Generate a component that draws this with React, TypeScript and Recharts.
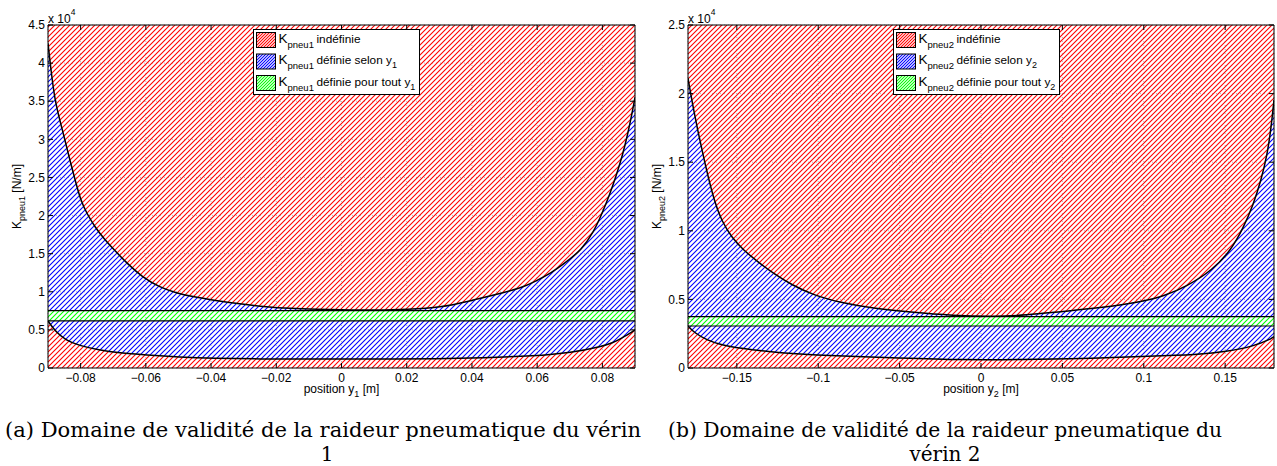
import React from "react";
import {
  ComposedChart,
  Area,
  Line,
  XAxis,
  YAxis,
  CartesianGrid,
  ReferenceLine,
  Legend,
  Label
} from "recharts";

const SANS = "'Liberation Sans', Arial, Helvetica, sans-serif";
const SERIF = "'DejaVu Serif', serif";

// (a) vérin 1 : upper limit of K_pneu1 [N/m] against position y1 [m]
const posSup1 = [-0.09, -0.0891, -0.0879, -0.0864, -0.0848, -0.0833, -0.0817, -0.08, -0.0781, -0.0756, -0.0728, -0.0697, -0.0654, -0.0611, -0.0559, -0.0507, -0.0452, -0.0395, -0.0312, -0.0228, -0.0158, -0.0087, 0.006, 0.0212, 0.0304, 0.0386, 0.0489, 0.0551, 0.0592, 0.0643, 0.0684, 0.0736, 0.0773, 0.0797, 0.0822, 0.0843, 0.0862, 0.0877, 0.089, 0.09];
const kSup1 = [42600, 39100, 35160, 32540, 29910, 27290, 24670, 22040, 20270, 18500, 16920, 15480, 13580, 11940, 10630, 9840, 9320, 8920, 8400, 8000, 7810, 7700, 7540, 7700, 7950, 8700, 9800, 10500, 11320, 12460, 13740, 15480, 17840, 20070, 22700, 25320, 27950, 30570, 33190, 35500];
// lower limit of K_pneu1
const posInf1 = [-0.09, -0.0877, -0.0846, -0.0805, -0.0744, -0.0682, -0.06, -0.0497, -0.0394, -0.025, -0.0087, 0.0078, 0.0304, 0.0427, 0.0592, 0.0705, 0.0797, 0.0834, 0.0859, 0.09];
const kInf1 = [6170, 4760, 3670, 2950, 2360, 1970, 1710, 1440, 1270, 1180, 1160, 1170, 1210, 1330, 1570, 2030, 2800, 3350, 3900, 4990];
const band1 = [6170, 7520];
const xTicks1 = [-0.08, -0.06, -0.04, -0.02, 0, 0.02, 0.04, 0.06, 0.08];
const yTicks1 = [0, 5000, 10000, 15000, 20000, 25000, 30000, 35000, 40000, 45000];

// (b) vérin 2 : upper limit of K_pneu2 [N/m] against position y2 [m]
const posSup2 = [-0.18, -0.1766, -0.1715, -0.1643, -0.159, -0.1529, -0.146, -0.137, -0.1276, -0.1161, -0.103, -0.0866, -0.0662, -0.0437, -0.0172, 0.0084, 0.028, 0.0483, 0.0728, 0.0993, 0.1134, 0.126, 0.1423, 0.1536, 0.1611, 0.1672, 0.1721, 0.1758, 0.1782, 0.18];
const kSup2 = [21120, 18810, 15890, 12250, 10640, 9480, 8600, 7730, 6900, 6050, 5320, 4770, 4350, 4080, 3820, 3745, 3850, 4100, 4370, 4830, 5290, 5930, 7140, 8600, 10200, 11880, 13700, 15530, 17490, 19530];
// lower limit of K_pneu2
const posInf2 = [-0.18, -0.1759, -0.1684, -0.1603, -0.148, -0.1296, -0.1071, -0.0457, -0.013, 0.0237, 0.0687, 0.1096, 0.1341, 0.1505, 0.1668, 0.1791, 0.18];
const kInf2 = [3060, 2550, 2040, 1710, 1440, 1170, 950, 710, 590, 600, 710, 875, 985, 1190, 1550, 2165, 2300];
const band2 = [3060, 3740];
const xTicks2 = [-0.15, -0.1, -0.05, 0, 0.05, 0.1, 0.15];
const yTicks2 = [0, 5000, 10000, 15000, 20000, 25000];

const legendLabels = ["indéfinie", "définie selon y", "définie pour tout y"];
const captions = [
  ["(a) Domaine de validité de la raideur pneumatique du vérin", "1"],
  ["(b) Domaine de validité de la raideur pneumatique du", "vérin 2"]
];

const RED = "#ff0000";
const BLUE = "#0000ff";
const GREEN = "#00ff00";

const fmtX = (v: number) => (v < 0 ? "\u2212" + Math.abs(v) : String(v));
const fmtY = (v: number) => String(v / 10000);
const blank = () => "";

function Hatch({ id, color, size, width = 1.1 }: { id: string; color: string; size: number; width?: number }) {
  const s = size;
  return (
    <pattern id={id} patternUnits="userSpaceOnUse" width={s} height={s}>
      <path
        d={`M-1,1 L1,-1 M0,${s} L${s},0 M${s - 1},${s + 1} L${s + 1},${s - 1}`}
        stroke={color}
        strokeWidth={width}
      />
    </pattern>
  );
}

function YTitle(props: any) {
  const { x, y, width, height } = props.viewBox;
  return (
    <text
      transform={`translate(${x + width - 27},${y + height / 2}) rotate(-90)`}
      textAnchor="middle"
      fontSize={12}
      fontFamily={SANS}
      fill="#000"
    >
      K<tspan fontSize={9} dy={4}>{props.sub}</tspan>
      <tspan dy={-4}> [N/m]</tspan>
    </text>
  );
}

function XTitle(props: any) {
  const { x, y, width } = props.viewBox;
  return (
    <text x={x + width / 2} y={y + 25} textAnchor="middle" fontSize={12} fontFamily={SANS} fill="#000">
      position y<tspan fontSize={9} dy={4}>{props.n}</tspan>
      <tspan dy={-4}> [m]</tspan>
    </text>
  );
}

function Exponent(props: any) {
  const { x, y } = props.viewBox;
  return (
    <text x={x} y={y - 1} fontSize={12} fontFamily={SANS} fill="#000">
      x 10<tspan fontSize={8.5} dy={-8}>4</tspan>
    </text>
  );
}

function LegendBox({ id, sub, n }: { id: string; sub: string; n: string }) {
  const colors = [RED, BLUE, GREEN];
  return (
    <div
      style={{
        width: 167,
        height: 66,
        boxSizing: "border-box",
        border: "1px solid #000",
        background: "#fff"
      }}
    >
      <svg width={165} height={64} style={{ display: "block" }}>
        <defs>
          {colors.map((c, i) => (
            <Hatch key={i} id={`${id}-lg${i}`} color={c} size={3} width={1.1} />
          ))}
        </defs>
        {legendLabels.map((t, i) => (
          <g key={i}>
            <rect
              x={2.5}
              y={2.5 + i * 21.5}
              width={19}
              height={15}
              fill={`url(#${id}-lg${i})`}
              stroke="#000"
              strokeWidth={1}
            />
            <text x={24.5} y={12.5 + i * 21.5} fontSize={13.5} fontFamily={SANS} fill="#000">
              K<tspan fontSize={9.5} dy={5}>{sub}</tspan>
            </text>
            <text x={62.5} y={12.5 + i * 21.5} fontSize={11.8} fontFamily={SANS} fill="#000">
              {t}
              {i > 0 && (
                <tspan fontSize={9} dy={4}>
                  {n}
                </tspan>
              )}
            </text>
          </g>
        ))}
      </svg>
    </div>
  );
}

type PanelProps = {
  id: string;
  posSup: number[];
  kSup: number[];
  posInf: number[];
  kInf: number[];
  band: number[];
  xTicks: number[];
  yTicks: number[];
  xMax: number;
  yMax: number;
  sub: string;
  n: string;
  left: number;
  yAxisWidth: number;
  marginRight: number;
  legendLeft: number;
};

function Panel(p: PanelProps) {
  const supRows = p.posSup.map((x, i) => ({ x, k: p.kSup[i] }));
  const infRows = p.posInf.map((x, i) => ({ x, k: p.kInf[i] }));
  const xDomain = [-p.xMax, p.xMax];
  const yDomain = [0, p.yMax];
  const tickStyle = { fill: "#000", fontSize: 12, fontFamily: SANS };
  return (
    <div style={{ position: "absolute", left: p.left, top: 0 }}>
      <ComposedChart
        width={640}
        height={400}
        margin={{ top: 24, right: p.marginRight, bottom: 0, left: 0 }}
      >
        <defs>
          <Hatch id={`${p.id}-r`} color={RED} size={5} />
          <Hatch id={`${p.id}-b`} color={BLUE} size={5} />
          <Hatch id={`${p.id}-g`} color={GREEN} size={5} />
        </defs>
        <CartesianGrid stroke="#b8b8b8" strokeDasharray="1 3" />
        <XAxis
          dataKey="x"
          type="number"
          domain={xDomain}
          allowDataOverflow
          ticks={p.xTicks}
          interval={0}
          tickFormatter={fmtX}
          tickSize={-5}
          tickMargin={10}
          height={32}
          stroke="#000"
          tick={tickStyle}
        >
          <Label content={(lp: any) => <XTitle {...lp} n={p.n} />} />
        </XAxis>
        <XAxis
          xAxisId="top"
          orientation="top"
          dataKey="x"
          type="number"
          domain={xDomain}
          allowDataOverflow
          ticks={p.xTicks}
          interval={0}
          tickFormatter={blank}
          tickSize={-5}
          height={1}
          stroke="#000"
        >
          <Label content={(lp: any) => <Exponent {...lp} />} />
        </XAxis>
        <YAxis
          type="number"
          domain={yDomain}
          allowDataOverflow
          ticks={p.yTicks}
          interval={0}
          tickFormatter={fmtY}
          tickSize={-5}
          tickMargin={8}
          width={p.yAxisWidth}
          stroke="#000"
          tick={tickStyle}
        >
          <Label content={(lp: any) => <YTitle {...lp} sub={p.sub} />} />
        </YAxis>
        <YAxis
          yAxisId="right"
          orientation="right"
          type="number"
          domain={yDomain}
          allowDataOverflow
          ticks={p.yTicks}
          interval={0}
          tickFormatter={blank}
          tickSize={-5}
          width={1}
          stroke="#000"
        />
        {/* K indéfinie, above the upper limit */}
        <Area
          data={supRows}
          type="basis"
          dataKey={(r: any) => [r.k, p.yMax]}
          fill={`url(#${p.id}-r)`}
          fillOpacity={1}
          stroke="none"
          isAnimationActive={false}
        />
        {/* K définie selon y, between the limits, outside the band */}
        <Area
          data={supRows}
          type="basis"
          dataKey={(r: any) => [p.band[1], r.k]}
          fill={`url(#${p.id}-b)`}
          fillOpacity={1}
          stroke="none"
          isAnimationActive={false}
        />
        <Area
          data={infRows}
          type="basis"
          dataKey={(r: any) => [r.k, p.band[0]]}
          fill={`url(#${p.id}-b)`}
          fillOpacity={1}
          stroke="none"
          isAnimationActive={false}
        />
        {/* K définie pour tout y */}
        <Area
          data={supRows}
          type="linear"
          dataKey={() => [p.band[0], p.band[1]]}
          fill={`url(#${p.id}-g)`}
          fillOpacity={1}
          stroke="none"
          isAnimationActive={false}
        />
        {/* K indéfinie, below the lower limit */}
        <Area
          data={infRows}
          type="basis"
          dataKey={(r: any) => [0, r.k]}
          fill={`url(#${p.id}-r)`}
          fillOpacity={1}
          stroke="none"
          isAnimationActive={false}
        />
        <ReferenceLine y={p.band[0]} stroke="#000" strokeWidth={1.2} />
        <ReferenceLine y={p.band[1]} stroke="#000" strokeWidth={1.2} />
        <Line
          data={supRows}
          type="basis"
          dataKey="k"
          stroke="#000"
          strokeWidth={1.5}
          dot={false}
          activeDot={false}
          isAnimationActive={false}
        />
        <Line
          data={infRows}
          type="basis"
          dataKey="k"
          stroke="#000"
          strokeWidth={1.5}
          dot={false}
          activeDot={false}
          isAnimationActive={false}
        />
        <Legend
          layout="vertical"
          align="center"
          verticalAlign="middle"
          width={167}
          height={66}
          wrapperStyle={{ left: p.legendLeft, top: 29 }}
          content={() => <LegendBox id={p.id} sub={p.sub} n={p.n} />}
        />
      </ComposedChart>
    </div>
  );
}

export default function App() {
  return (
    <div
      style={{
        position: "absolute",
        left: 0,
        top: 0,
        width: 1277,
        height: 466,
        background: "#fff",
        overflow: "hidden"
      }}
    >
      <Panel
        id="v1"
        posSup={posSup1}
        kSup={kSup1}
        posInf={posInf1}
        kInf={kInf1}
        band={band1}
        xTicks={xTicks1}
        yTicks={yTicks1}
        xMax={0.09}
        yMax={45000}
        sub="pneu1"
        n="1"
        left={0}
        yAxisWidth={48}
        marginRight={4}
        legendLeft={253}
      />
      <Panel
        id="v2"
        posSup={posSup2}
        kSup={kSup2}
        posInf={posInf2}
        kInf={kInf2}
        band={band2}
        xTicks={xTicks2}
        yTicks={yTicks2}
        xMax={0.18}
        yMax={25000}
        sub="pneu2"
        n="2"
        left={637}
        yAxisWidth={51}
        marginRight={2}
        legendLeft={256}
      />
      <svg
        width={1277}
        height={66}
        style={{ position: "absolute", left: 0, top: 400 }}
        fontFamily={SERIF}
        fontSize={20}
        fill="#000"
      >
        <text x={5} y={37} textLength={636} lengthAdjust="spacingAndGlyphs">
          {captions[0][0]}
        </text>
        <text x={327} y={61} textAnchor="middle">
          {captions[0][1]}
        </text>
        <text x={668} y={37} textLength={554} lengthAdjust="spacingAndGlyphs">
          {captions[1][0]}
        </text>
        <text x={945} y={61} textAnchor="middle">
          {captions[1][1]}
        </text>
      </svg>
    </div>
  );
}
